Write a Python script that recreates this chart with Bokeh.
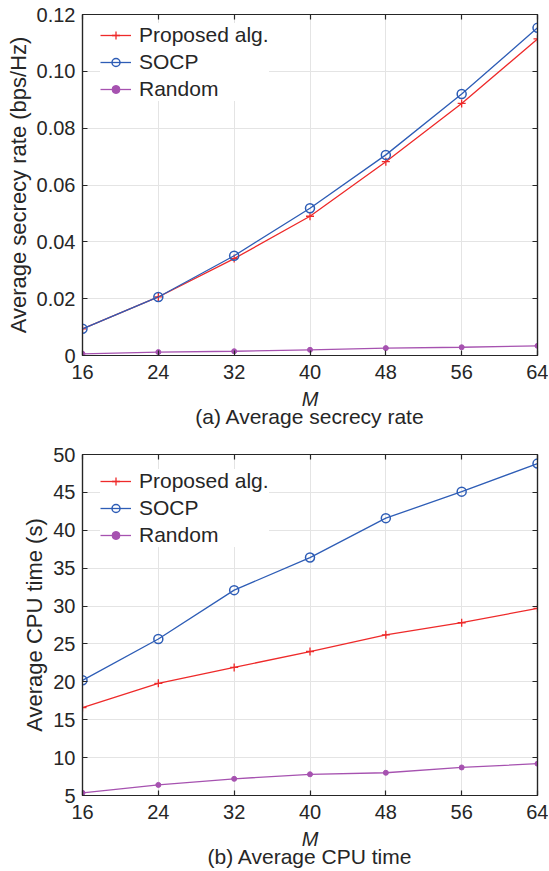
from bokeh.plotting import figure
from bokeh.models import (Range1d, LinearAxis, FixedTicker, NumeralTickFormatter, Legend,
                          LegendItem, CustomJSTickFormatter)
from bokeh.layouts import column
from bokeh.embed import file_html
from bokeh.resources import INLINE

# ---- data ----
M = [16, 24, 32, 40, 48, 56, 64]
rate_proposed = [0.0094, 0.0206, 0.0341, 0.0490, 0.0682, 0.0887, 0.1114]
rate_socp = [0.0094, 0.0206, 0.0351, 0.0518, 0.0706, 0.0920, 0.1153]
rate_random = [0.0006, 0.0012, 0.0015, 0.0020, 0.0026, 0.0029, 0.0034]
cpu_proposed = [16.6, 19.8, 21.9, 24.0, 26.2, 27.8, 29.7]
cpu_socp = [20.2, 25.65, 32.1, 36.4, 41.6, 45.1, 48.8]
cpu_random = [5.35, 6.4, 7.2, 7.8, 8.0, 8.7, 9.2]
x_ticks = [16, 24, 32, 40, 48, 56, 64]
rate_ticks = [0, 0.02, 0.04, 0.06, 0.08, 0.10, 0.12]
cpu_ticks = [5, 10, 15, 20, 25, 30, 35, 40, 45, 50]
series_names = ["Proposed alg.", "SOCP", "Random"]

FONT = "Liberation Sans"
TXT = "#262626"
RED = "#EE2A2A"
BLUE = "#2E5DB6"
PURPLE = "#A652B0"
GRID = "#E4E4E4"
FW, FH = 455, 341


def style_axis(ax, ticks, show_labels=True):
    ax.ticker = FixedTicker(ticks=ticks, minor_ticks=[])
    ax.major_tick_in = 5
    ax.major_tick_out = 0
    ax.minor_tick_in = 0
    ax.minor_tick_out = 0
    ax.axis_line_color = TXT
    ax.axis_line_width = 1.2
    ax.major_tick_line_color = TXT
    ax.major_tick_line_width = 1.2
    ax.major_label_text_font = FONT
    ax.major_label_text_color = TXT
    ax.major_label_text_font_size = "20px"
    if show_labels:
        ax.major_label_standoff = 9
    else:
        ax.formatter = CustomJSTickFormatter(code="return ''")
        ax.major_label_standoff = 0


def make(y0, y1, yticks, ys, ylabel, caption, top_border, bottom_border, legend_y,
         fmt=None, overrides=None):
    p = figure(frame_width=FW, frame_height=FH, output_backend="svg", toolbar_location=None,
               x_range=Range1d(16, 64), y_range=Range1d(y0, y1),
               min_border_left=82, min_border_right=11, min_border_top=top_border,
               min_border_bottom=bottom_border)
    p.outline_line_color = TXT
    p.outline_line_width = 1.2
    style_axis(p.xaxis[0], x_ticks)
    style_axis(p.yaxis[0], yticks)
    p.yaxis[0].major_label_standoff = 7
    if fmt:
        p.yaxis[0].formatter = NumeralTickFormatter(format=fmt)
    if overrides:
        p.yaxis[0].major_label_overrides = overrides
    p.xaxis[0].axis_label = "M"
    p.xaxis[0].axis_label_text_font = FONT
    p.xaxis[0].axis_label_text_font_size = "20px"
    p.xaxis[0].axis_label_text_font_style = "italic"
    p.xaxis[0].axis_label_text_color = TXT
    p.xaxis[0].axis_label_standoff = 6
    p.yaxis[0].axis_label = ylabel
    p.yaxis[0].axis_label_text_font = FONT
    p.yaxis[0].axis_label_text_font_size = "22px"
    p.yaxis[0].axis_label_text_font_style = "normal"
    p.yaxis[0].axis_label_text_color = TXT
    p.yaxis[0].axis_label_standoff = 3

    # caption as the label of an extra, tick-less axis below the x axis
    cap = LinearAxis(ticker=FixedTicker(ticks=[], minor_ticks=[]), axis_label=caption)
    cap.axis_line_color = None
    cap.major_tick_line_color = None
    cap.minor_tick_line_color = None
    cap.major_tick_in = 0
    cap.major_tick_out = 0
    cap.minor_tick_in = 0
    cap.minor_tick_out = 0
    cap.major_label_standoff = 0
    cap.axis_label_standoff = -8
    cap.axis_label_text_font = FONT
    cap.axis_label_text_font_size = "21px"
    cap.axis_label_text_font_style = "normal"
    cap.axis_label_text_color = TXT
    p.add_layout(cap, "below")

    top = LinearAxis()
    style_axis(top, x_ticks, False)
    p.add_layout(top, "above")
    right = LinearAxis()
    style_axis(right, yticks, False)
    p.add_layout(right, "right")

    p.xgrid.ticker = FixedTicker(ticks=x_ticks, minor_ticks=[])
    p.ygrid.ticker = FixedTicker(ticks=yticks, minor_ticks=[])
    for g in (p.xgrid, p.ygrid):
        g.grid_line_color = GRID
        g.grid_line_width = 1

    items = []
    l1 = p.line(M, ys[0], line_color=RED, line_width=1.3)
    s1 = p.scatter(M, ys[0], marker="cross", size=8, line_color=RED, line_width=1.3)
    items.append(LegendItem(label=series_names[0], renderers=[l1, s1]))
    l2 = p.line(M, ys[1], line_color=BLUE, line_width=1.3)
    s2 = p.scatter(M, ys[1], marker="circle", size=9, line_color=BLUE, fill_color=None, line_width=1.5)
    items.append(LegendItem(label=series_names[1], renderers=[l2, s2]))
    l3 = p.line(M, ys[2], line_color=PURPLE, line_width=1.3)
    s3 = p.scatter(M, ys[2], marker="circle", size=5, line_color=PURPLE, fill_color=PURPLE)
    items.append(LegendItem(label=series_names[2], renderers=[l3, s3]))

    leg = Legend(items=items, location=(18, legend_y))
    leg.background_fill_color = "white"
    leg.background_fill_alpha = 1
    leg.border_line_color = None
    leg.label_text_font = FONT
    leg.label_text_font_size = "21px"
    leg.label_text_color = TXT
    leg.glyph_width = 31
    leg.glyph_height = 20
    leg.label_height = 20
    leg.label_standoff = 8
    leg.spacing = 3
    leg.padding = 11
    leg.margin = 0
    p.add_layout(leg)
    return p


p1 = make(0, 0.12, rate_ticks, [rate_proposed, rate_socp, rate_random],
          "Average secrecy rate (bps/Hz)", "(a) Average secrecy rate", 14, 80, 254,
          fmt="0.00", overrides={0: "0"})
p2 = make(5, 50, cpu_ticks, [cpu_proposed, cpu_socp, cpu_random],
          "Average CPU time (s)", "(b) Average CPU time", 19, 10, 248)

layout = column(p1, p2)
open("out.html", "w").write(file_html(layout, INLINE))
